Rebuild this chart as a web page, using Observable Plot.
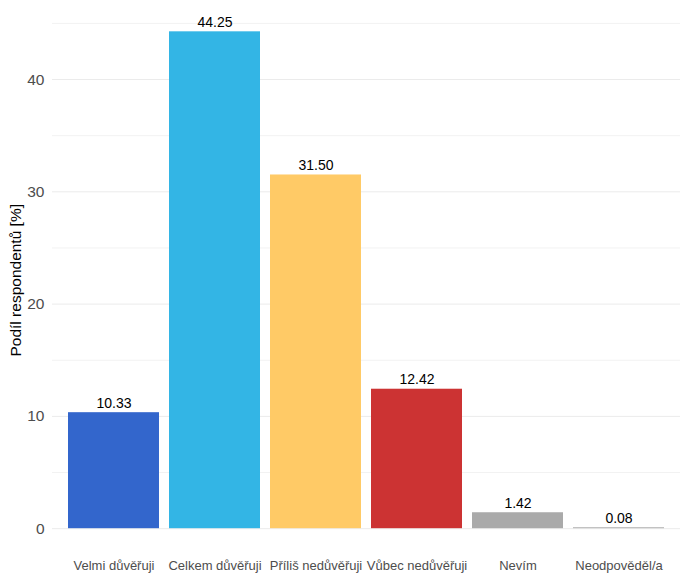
<!DOCTYPE html>
<html><head><meta charset="utf-8">
<script src="https://cdn.jsdelivr.net/npm/d3@7"></script>
<script src="https://cdn.jsdelivr.net/npm/@observablehq/plot@0.6"></script>
<style>body{margin:0;background:#fff;font-family:"Liberation Sans",Arial,sans-serif}</style>
</head><body><div id="chart"></div>
<script>
const categories = ["Velmi důvěřuji","Celkem důvěřuji","Příliš nedůvěřuji","Vůbec nedůvěřuji","Nevím","Neodpověděl/a"];
const values = [10.33, 44.25, 31.50, 12.42, 1.42, 0.08];
const colors = ["#3366CC","#33B5E5","#FFCA66","#CC3333","#AAAAAA","#AAAAAA"];
const majorTicks = [0,10,20,30,40];
const minorTicks = [5,15,25,35,45];
const yTitle = "Podíl respondentů [%]";

const data = categories.map((c,i)=>({cat:c, val:values[i], col:colors[i]}));
const chart = Plot.plot({
  width: 688, height: 581,
  marginLeft: 52, marginRight: 8, marginTop: 6.5, marginBottom: 28,
  style: {fontFamily: '"Liberation Sans", Arial, sans-serif', background: "#fff"},
  x: {domain: categories, paddingInner: 0.1, paddingOuter: 0.15, label: null},
  y: {domain: [-2.21, 46.46], label: null},
  marks: [
    Plot.gridY(minorTicks, {stroke: "#f2f2f2", strokeOpacity: 1, strokeWidth: 1}),
    Plot.gridY(majorTicks, {stroke: "#ebebeb", strokeOpacity: 1, strokeWidth: 1}),
    Plot.axisY(majorTicks, {tickSize: 0, tickPadding: 8, fontSize: 15.5, fill: "#4d4d4d", label: null}),
    Plot.axisX({tickSize: 0, tickPadding: 7, fontSize: 13, fill: "#4d4d4d", label: null}),
    Plot.barY(data, {x: "cat", y: "val", fill: "col"}),
    Plot.text(data, {x: "cat", y: "val", text: d => d.val.toFixed(2), lineAnchor: "bottom", dy: -5, fontSize: 14, fill: "#000"}),
    Plot.text([yTitle], {frameAnchor: "left", textAnchor: "middle", dx: -36, rotate: -90, fontSize: 15.5, fill: "#000"})
  ]
});
document.getElementById("chart").appendChild(chart);
</script></body></html>
